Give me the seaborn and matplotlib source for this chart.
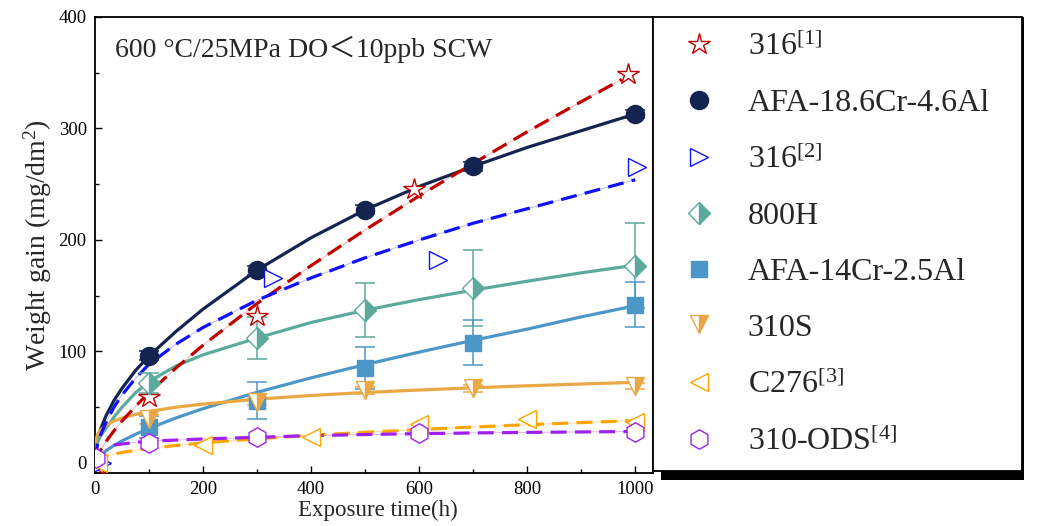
import numpy as np
import pandas as pd
import matplotlib
matplotlib.use('Agg')
import matplotlib.pyplot as plt
import seaborn as sns
from matplotlib.patches import Rectangle
from matplotlib.transforms import IdentityTransform
from matplotlib.ticker import MultipleLocator

# ---------------- data ----------------
# 316 [1]
t_316a = [3, 100, 300, 590, 987]
w_316a = [-2, 59, 132, 246, 349]
fx_316a = [0, 2, 5, 10, 20, 35, 50, 75, 100, 150, 200, 300, 400, 500, 600, 700, 800, 900, 975]
fy_316a = [0, 3.4, 6.8, 11.3, 19.0, 28.8, 37.6, 50.8, 63.0, 85.3, 105.6, 143, 177, 209, 239.5, 268.6, 297, 324, 344]

# AFA-18.6Cr-4.6Al
t_afa18 = [100, 300, 500, 700, 1000]
w_afa18 = [96, 173, 227, 266, 313]
e_afa18 = [4, 4, 4, 4, 4]
fx_afa18 = [0, 2, 5, 10, 20, 35, 50, 75, 100, 150, 200, 300, 400, 500, 600, 700, 800, 900, 1000]
fy_afa18 = [0, 13, 21, 30, 42, 56, 67, 83, 96, 118, 138, 173, 202, 227, 248, 266, 283, 298, 313]

# 316 [2]
t_316b = [12, 330, 635, 1003]
w_316b = [0, 166, 182, 265]
fx_316b = [0, 2, 5, 10, 20, 35, 50, 75, 100, 150, 200, 300, 400, 500, 600, 700, 800, 900, 1000]
fy_316b = [3, 10, 17, 25, 36, 50, 61, 76, 88.6, 106.6, 121.5, 146, 166, 184, 200, 215, 228, 241, 254]

# 800H
t_800h = [100, 300, 500, 700, 1000]
w_800h = [72, 112, 137, 157, 177]
e_800h = [9, 19, 24, 34, 38]
fx_800h = [0, 2, 5, 10, 20, 35, 50, 75, 100, 150, 200, 300, 400, 500, 600, 700, 800, 900, 1000]
fy_800h = [12, 15, 19, 24, 31, 41, 50, 63, 73, 87, 97, 112, 126, 137, 146.5, 155, 163, 170.5, 177.4]

# AFA-14Cr-2.5Al
t_afa14 = [100, 300, 500, 700, 1000]
w_afa14 = [32, 56, 85, 108, 142]
e_afa14 = [10, 17, 19, 20, 20]
fx_afa14 = [0, 2, 5, 10, 20, 35, 50, 75, 100, 150, 200, 300, 400, 500, 600, 700, 800, 900, 1000]
fy_afa14 = [1, 2.4, 4.4, 6.9, 10.9, 15.7, 19.8, 25.7, 31, 40.4, 48.7, 63.4, 76.3, 88.2, 99.4, 110, 120, 131, 141]

# 310S
t_310s = [100, 300, 500, 700, 1000]
w_310s = [39, 55, 65, 67, 69]
e_310s = [4, 3, 3, 3, 3]
fx_310s = [1, 2, 5, 10, 20, 35, 50, 75, 100, 150, 200, 300, 400, 500, 600, 700, 800, 900, 1000]
fy_310s = [18.8, 21.5, 25.7, 29.5, 33.7, 37.6, 40.3, 43.6, 46.2, 50, 52.8, 57.2, 60.5, 63.2, 65.4, 67.4, 69.2, 70.8, 72.3]

# C276 [3]
t_c276 = [5, 200, 400, 600, 800, 1000]
w_c276 = [0, 16, 23, 35, 39, 37]
fx_c276 = [0, 2, 5, 10, 20, 35, 50, 75, 100, 150, 200, 300, 400, 500, 600, 700, 800, 900, 1000]
fy_c276 = [0, 2.1, 3.2, 4.4, 6.1, 8.0, 9.4, 11.4, 13.0, 15.7, 18.0, 21.7, 24.8, 27.5, 29.9, 32.2, 34.3, 36.2, 38.0]

# 310-ODS [4]
t_ods = [2, 100, 300, 600, 1000]
w_ods = [4, 18, 23, 27, 28]
fx_ods = [35, 50, 75, 100, 150, 200, 300, 400, 500, 600, 700, 800, 900, 990]
fy_ods = [16, 17, 18.5, 19.5, 20.5, 21.5, 23, 24.5, 25.5, 26.3, 26.9, 27.4, 27.8, 28.2]

labels = ['316$^{\\mathrm{[1]}}$', 'AFA-18.6Cr-4.6Al', '316$^{\\mathrm{[2]}}$', '800H',
          'AFA-14Cr-2.5Al', '310S', 'C276$^{\\mathrm{[3]}}$', '310-ODS$^{\\mathrm{[4]}}$']

x_ticks = [0, 200, 400, 600, 800, 1000]
y_ticks = [0, 100, 200, 300, 400]

# ---------------- style ----------------
sns.set_theme(style='ticks')
plt.rcParams['font.family'] = ['Liberation Serif', 'Noto Sans CJK SC', 'DejaVu Sans']
plt.rcParams['mathtext.fontset'] = 'custom'
plt.rcParams['mathtext.rm'] = 'Liberation Serif'
plt.rcParams['mathtext.it'] = 'Liberation Serif:italic'
plt.rcParams['mathtext.bf'] = 'Liberation Serif:bold'

c_red = '#C00000'
c_navy = '#142450'
c_blue = '#1010FF'
c_teal = '#5BAA9C'
c_steel = '#4D96C8'
c_or1 = '#EAA845'
c_or2 = '#FFA500'
c_pur = '#A020F0'

fig = plt.figure(figsize=(10.41, 5.26), dpi=100)
ax = fig.add_axes([0.0913, 0.1008, 0.5360, 0.8669])

dash = (0, (5, 2.6))
lw_fit = 2.3
thin = 0.6

# fit lines
def fit(x, y, color, ls, thin_color=None):
    if thin_color is not None:
        sns.lineplot(x=x, y=y, ax=ax, color=thin_color, lw=thin, zorder=2)
    sns.lineplot(x=x, y=y, ax=ax, color=color, lw=lw_fit, linestyle=ls, zorder=3)

fit(fx_afa18, fy_afa18, c_navy, '-')
fit(fx_800h, fy_800h, c_teal, '-')
fit(fx_afa14, fy_afa14, c_steel, '-')
fit(fx_310s, fy_310s, c_or1, '-')
fit(fx_316a, fy_316a, c_red, dash, '#F4A8A8')
fit(fx_316b, fy_316b, c_blue, dash, '#B0B0FF')
fit(fx_c276, fy_c276, c_or2, dash, '#FFD590')
fit(fx_ods, fy_ods, c_pur, dash, '#D8A8F8')

# error bars
eb_kw = dict(fmt='none', capsize=7, elinewidth=1.1, capthick=1.1, zorder=4)
ax.errorbar(t_afa18, w_afa18, yerr=e_afa18, ecolor=c_navy, **eb_kw)
ax.errorbar(t_800h, w_800h, yerr=e_800h, ecolor=c_teal, **eb_kw)
ax.errorbar(t_afa14, w_afa14, yerr=e_afa14, ecolor=c_steel, **eb_kw)
ax.errorbar(t_310s, w_310s, yerr=e_310s, ecolor=c_or1, **eb_kw)

# markers
handles = []
h, = ax.plot(t_316a, w_316a, ls='none', marker='*', ms=16, mfc='white', mec=c_red, mew=1.0, zorder=5)
handles.append(h)
h, = ax.plot(t_afa18, w_afa18, ls='none', marker='o', ms=13, mfc=c_navy, mec=c_navy, zorder=5)
handles.append(h)
h, = ax.plot(t_316b, w_316b, ls='none', marker='>', ms=13, mfc='white', mec=c_blue, mew=1.0, zorder=5)
handles.append(h)
h, = ax.plot(t_800h, w_800h, ls='none', marker='D', ms=11, fillstyle='right', mfc=c_teal,
             mfcalt='white', mec=c_teal, mew=1.0, zorder=5)
handles.append(h)
h, = ax.plot(t_afa14, w_afa14, ls='none', marker='s', ms=11, mfc=c_steel, mec=c_steel, zorder=5)
handles.append(h)
h, = ax.plot(t_310s, w_310s, ls='none', marker='v', ms=13, fillstyle='right', mfc=c_or1,
             mfcalt='white', mec=c_or1, mew=1.0, zorder=5)
handles.append(h)
h, = ax.plot(t_c276, w_c276, ls='none', marker='<', ms=13, mfc='white', mec=c_or2, mew=1.0, zorder=5)
handles.append(h)
h, = ax.plot(t_ods, w_ods, ls='none', marker='h', ms=14, mfc='white', mec=c_pur, mew=1.0, zorder=5)
handles.append(h)

# axes
ax.set_xlim(0, 1033)
ax.set_ylim(-9, 400)
ax.set_xticks(x_ticks)
ax.set_yticks(y_ticks)
ax.xaxis.set_minor_locator(MultipleLocator(100))
ax.yaxis.set_minor_locator(MultipleLocator(50))
ax.tick_params(which='both', direction='in', top=False, right=False, width=1.0, colors='black')
ax.tick_params(which='major', length=5, pad=6, labelsize=13.5)
ax.tick_params(which='minor', length=3)
for s in ax.spines.values():
    s.set_linewidth(1.3)
    s.set_color('black')
    s.set_visible(True)

ax.set_xlabel('Exposure time(h)', fontsize=16.5)
ax.set_ylabel('Weight gain (mg/dm$^{\\mathrm{2}}$)', fontsize=20)
ax.xaxis.set_label_coords(0.507, -0.058)
ax.yaxis.set_label_coords(-0.074, 0.5)

ax.text(0.036, 0.912, '600 °C/25MPa DO＜10ppb SCW', transform=ax.transAxes,
        fontsize=20, va='baseline', ha='left')

leg = ax.legend(handles, labels, loc='upper left', bbox_to_anchor=(1.0, 0.0, 0.661, 1.0),
                mode='expand', borderaxespad=0, fontsize=23, frameon=True, fancybox=False,
                framealpha=1, edgecolor='black', borderpad=0.45, handlelength=1.95,
                handletextpad=0.56, labelspacing=0.83)
leg.get_frame().set_linewidth(1.3)

fig.canvas.draw()
bb = leg.get_window_extent()
fig.add_artist(Rectangle((bb.x0 + 8, bb.y0 - 9), (bb.x1 + 2) - (bb.x0 + 8), bb.y1 - (bb.y0 - 9),
                         transform=IdentityTransform(), facecolor='black', edgecolor='none', zorder=-1))

fig.savefig('out.png', dpi=100)
